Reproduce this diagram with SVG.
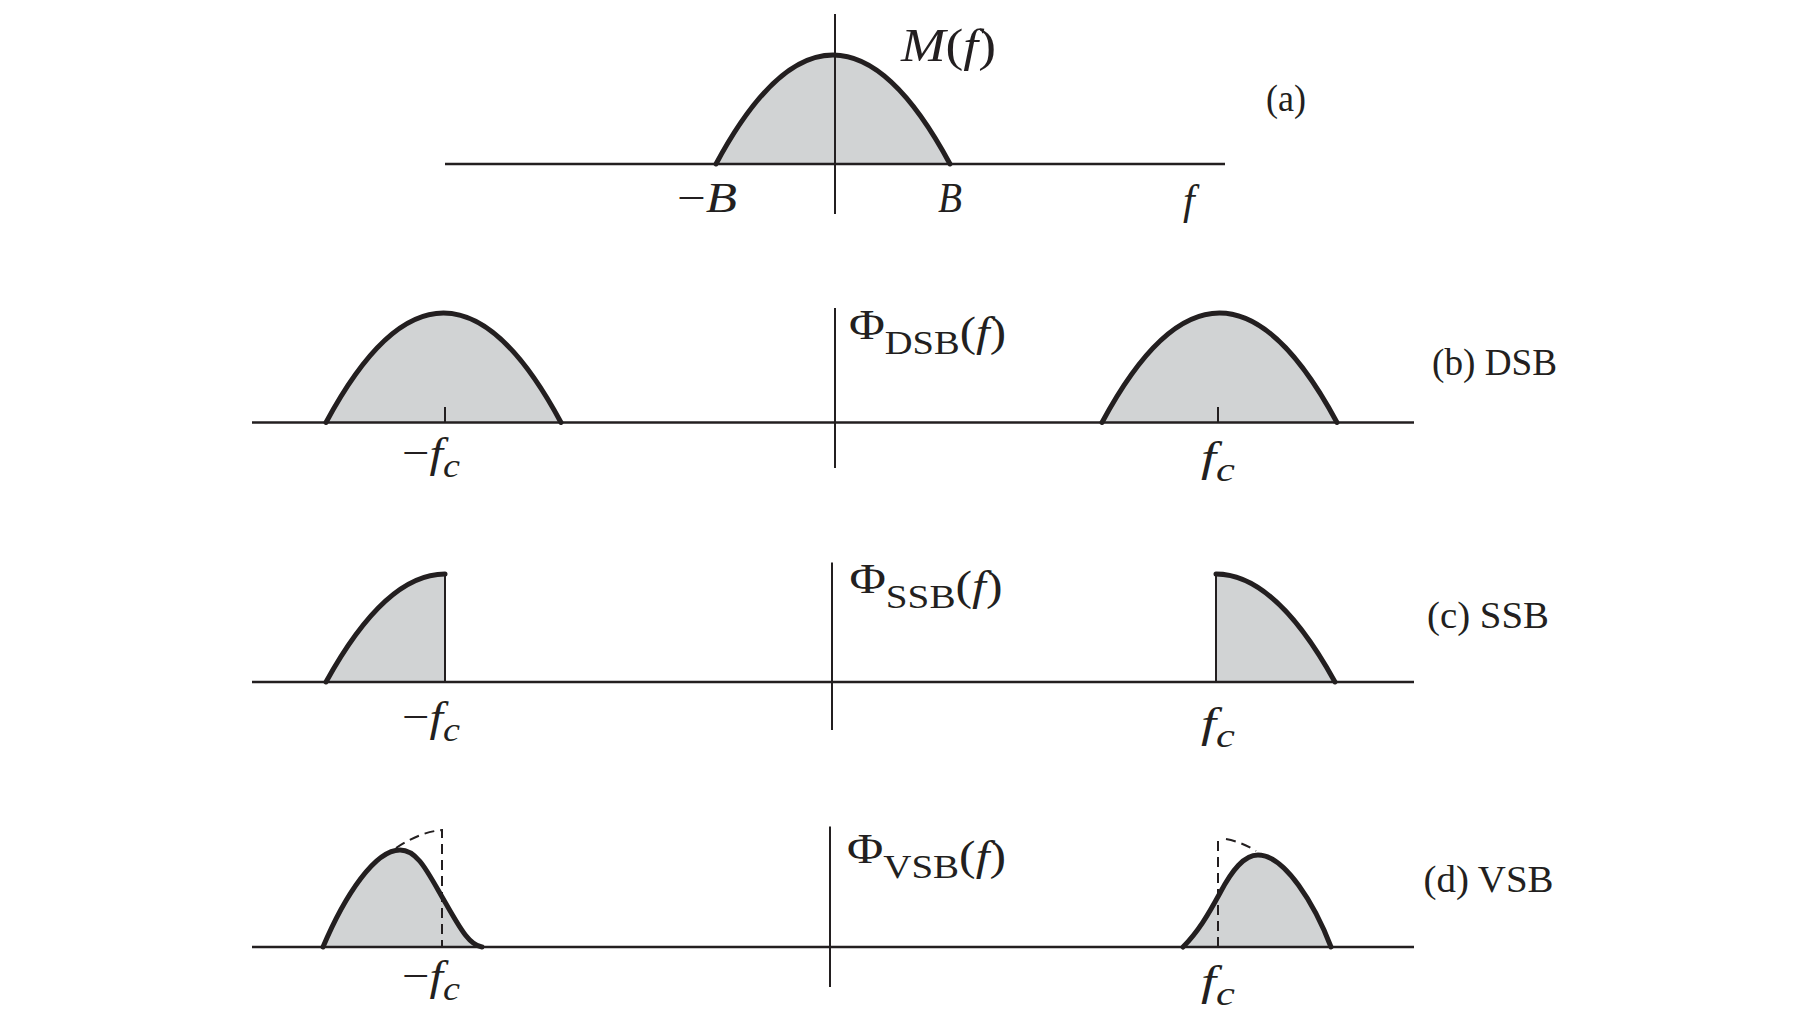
<svg xmlns="http://www.w3.org/2000/svg" width="1800" height="1012" viewBox="0 0 1800 1012">
<style>
.ax{stroke:#231f20;stroke-width:2.6;fill:none}
.thin{stroke:#231f20;stroke-width:2;fill:none}
.fill{fill:#d1d3d4;stroke:none}
.crv{stroke:#231f20;stroke-width:5;fill:none;stroke-linejoin:round;stroke-linecap:round}
.dash{stroke:#231f20;stroke-width:2;fill:none;stroke-dasharray:10 6}
text{font-family:"Liberation Serif","Times New Roman",serif;fill:#231f20}
.m{font-size:42px}
.big{font-size:47px}
.i{font-style:italic}
.lab{font-size:38px}
.sub{font-size:33px}
.phi{font-size:42px}
</style>
<rect width="1800" height="1012" fill="#ffffff"/>

<g id="panel-a">
  <path class="fill" d="M716,164 Q833,-54 950,164 Z"/>
  <line class="ax" x1="445" y1="164" x2="1225" y2="164"/>
  <line class="thin" x1="835" y1="14" x2="835" y2="214"/>
  <path class="crv" d="M716,164 Q833,-54 950,164"/>
  <text class="big" x="901" y="61" textLength="95" lengthAdjust="spacingAndGlyphs"><tspan class="i">M</tspan>(<tspan class="i">f</tspan>)</text>
  <text class="lab" x="1266" y="111" textLength="40" lengthAdjust="spacingAndGlyphs">(a)</text>
  <text class="m" x="677" y="212" textLength="60" lengthAdjust="spacingAndGlyphs">−<tspan class="i">B</tspan></text>
  <text class="m i" x="938" y="212" textLength="24" lengthAdjust="spacingAndGlyphs">B</text>
  <text class="m i" x="1183" y="214">f</text>
</g>

<g id="panel-b">
  <path class="fill" d="M326,422.5 Q443.5,203.5 561,422.5 Z"/>
  <path class="fill" d="M1102,422.5 Q1219.5,203.5 1337,422.5 Z"/>
  <line class="ax" x1="252" y1="422.5" x2="1414" y2="422.5"/>
  <line class="thin" x1="835" y1="308" x2="835" y2="468"/>
  <line class="thin" x1="445" y1="407" x2="445" y2="422.5"/>
  <line class="thin" x1="1218" y1="407" x2="1218" y2="422.5"/>
  <path class="crv" d="M326,422.5 Q443.5,203.5 561,422.5"/>
  <path class="crv" d="M1102,422.5 Q1219.5,203.5 1337,422.5"/>
  <text class="phi" x="849" y="339" textLength="157" lengthAdjust="spacingAndGlyphs">Φ<tspan class="sub" dy="15">DSB</tspan><tspan dy="-8">(</tspan><tspan class="i">f</tspan>)</text>
  <text class="lab" x="1432" y="375" textLength="125" lengthAdjust="spacingAndGlyphs">(b) DSB</text>
  <text class="m" x="402" y="467" textLength="58" lengthAdjust="spacingAndGlyphs">−<tspan class="i">f</tspan><tspan class="sub i" dy="10">c</tspan></text>
  <text class="m" x="1201" y="471" textLength="34" lengthAdjust="spacingAndGlyphs"><tspan class="i">f</tspan><tspan class="sub i" dy="10">c</tspan></text>
</g>

<g id="panel-c">
  <path class="fill" d="M326,682 Q385.5,574 445,574 L445,682 Z"/>
  <path class="fill" d="M1216,682 L1216,574 Q1275.5,574 1335,682 Z"/>
  <line class="ax" x1="252" y1="682" x2="1414" y2="682"/>
  <line class="thin" x1="832" y1="562.5" x2="832" y2="730"/>
  <line class="thin" x1="445" y1="574" x2="445" y2="682"/>
  <line class="thin" x1="1216" y1="574" x2="1216" y2="682"/>
  <path class="crv" d="M326,682 Q385.5,574 445,574"/>
  <path class="crv" d="M1216,574 Q1275.5,574 1335,682"/>
  <text class="phi" x="849.5" y="593" textLength="153" lengthAdjust="spacingAndGlyphs">Φ<tspan class="sub" dy="15">SSB</tspan><tspan dy="-8">(</tspan><tspan class="i">f</tspan>)</text>
  <text class="lab" x="1427" y="628" textLength="122" lengthAdjust="spacingAndGlyphs">(c) SSB</text>
  <text class="m" x="402" y="731" textLength="58" lengthAdjust="spacingAndGlyphs">−<tspan class="i">f</tspan><tspan class="sub i" dy="10">c</tspan></text>
  <text class="m" x="1201" y="737" textLength="34" lengthAdjust="spacingAndGlyphs"><tspan class="i">f</tspan><tspan class="sub i" dy="10">c</tspan></text>
</g>

<g id="panel-d">
  <path class="fill" d="M323,947 C345,895 375,850 400,850 C418,850 428,873 445,902 C462,932 470,945 482,947 Z"/>
  <path class="fill" d="M1183,947 C1198,932 1208,915 1220,893 C1232,870 1244,855 1258,855 C1285,855 1315,905 1331,947 Z"/>
  <line class="ax" x1="252" y1="947" x2="1414" y2="947"/>
  <line class="thin" x1="830" y1="826.5" x2="830" y2="987"/>
  <path class="dash" d="M396,848 Q420,832 442,830 L442,947"/>
  <path class="dash" d="M1218,947 L1218,840 M1226,839 Q1242,842 1256,851"/>
  <path class="crv" d="M323,947 C345,895 375,850 400,850 C418,850 428,873 445,902 C462,932 470,945 482,947"/>
  <path class="crv" d="M1183,947 C1198,932 1208,915 1220,893 C1232,870 1244,855 1258,855 C1285,855 1315,905 1331,947"/>
  <text class="phi" x="847" y="863" textLength="159" lengthAdjust="spacingAndGlyphs">Φ<tspan class="sub" dy="15">VSB</tspan><tspan dy="-8">(</tspan><tspan class="i">f</tspan>)</text>
  <text class="lab" x="1423.5" y="892" textLength="130" lengthAdjust="spacingAndGlyphs">(d) VSB</text>
  <text class="m" x="402" y="990" textLength="58" lengthAdjust="spacingAndGlyphs">−<tspan class="i">f</tspan><tspan class="sub i" dy="10">c</tspan></text>
  <text class="m" x="1201" y="995" textLength="34" lengthAdjust="spacingAndGlyphs"><tspan class="i">f</tspan><tspan class="sub i" dy="10">c</tspan></text>
</g>
</svg>
